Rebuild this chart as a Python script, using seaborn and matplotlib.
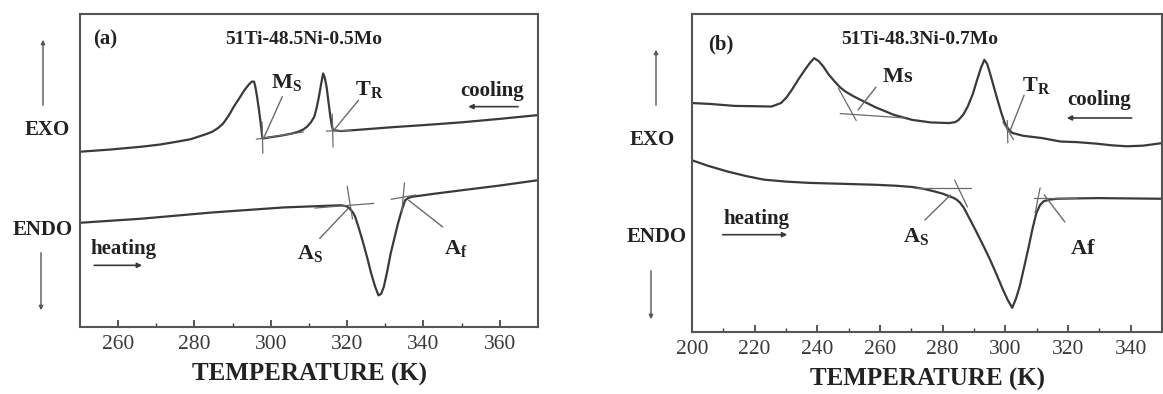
import numpy as np
import pandas as pd
import matplotlib
matplotlib.use("Agg")
import matplotlib.pyplot as plt
import seaborn as sns

# ---------------- DSC data (heat flow in arbitrary units) ----------------
# (a) 51Ti-48.5Ni-0.5Mo
a_cool_T = [250.0, 258.0, 266.1, 271.0, 275.4, 279.0, 281.0, 283.0, 284.7, 286.2, 287.5, 289.0,
            290.3, 291.8, 293.1, 294.2, 295.0, 295.6, 295.9, 296.4, 296.9, 297.4, 297.8, 299.7,
            301.5, 303.4, 305.5, 307.2, 308.5, 309.5, 310.5, 311.4, 312.0, 312.6, 313.2, 313.7,
            314.1, 314.6, 315.1, 315.6, 316.0, 316.3, 318.4, 324.0, 331.4, 340.0, 350.1, 360.0, 370.0]
a_cool_y = [56.0, 56.7, 57.6, 58.3, 59.2, 60.0, 60.8, 61.6, 62.4, 63.6, 65.0, 67.6,
            70.4, 73.2, 75.7, 77.4, 78.4, 78.4, 77.0, 73.5, 69.3, 64.5, 60.2, 60.6,
            60.9, 61.3, 61.8, 62.4, 63.1, 64.0, 65.4, 67.2, 70.0, 73.6, 77.8, 81.0,
            79.8, 76.8, 72.0, 67.2, 64.2, 62.9, 62.6, 63.1, 63.8, 64.5, 65.4, 66.5, 67.7]

a_heat_T = [250.0, 266.1, 284.7, 303.4, 318.4, 319.8, 320.7, 321.5, 322.1, 323.0, 324.0, 325.2,
            326.3, 327.3, 328.2, 328.9, 329.6, 330.5, 331.4, 332.4, 333.3, 334.3, 335.2, 336.0,
            337.0, 343.0, 350.1, 360.0, 370.0]
a_heat_y = [33.3, 34.6, 36.6, 38.2, 38.9, 38.6, 37.8, 36.6, 35.2, 31.8, 27.7, 22.4,
            17.1, 13.0, 10.1, 10.6, 12.8, 17.8, 23.5, 28.5, 33.0, 37.3, 40.5, 41.2,
            41.6, 42.6, 43.7, 45.2, 46.9]

# (b) 51Ti-48.3Ni-0.7Mo
b_cool_T = [200.0, 206.0, 213.6, 220.0, 225.4, 228.4, 230.2, 231.9, 234.0, 236.0, 237.6, 239.0,
            240.4, 241.9, 243.6, 245.5, 247.2, 249.0, 251.4, 253.8, 258.5, 264.4, 270.3, 276.2,
            282.1, 284.0, 285.1, 286.6, 288.0, 289.6, 291.0, 292.2, 293.3, 294.2, 295.1, 296.3,
            297.5, 298.7, 299.8, 301.0, 302.2, 305.7, 311.6, 317.6, 323.0, 329.4, 334.0, 338.8,
            344.0, 350.0]
b_cool_y = [72.0, 71.7, 71.1, 71.0, 70.9, 72.0, 73.8, 76.2, 79.5, 82.4, 84.6, 86.1,
            85.2, 83.5, 81.0, 78.8, 77.0, 75.6, 74.2, 73.0, 70.7, 68.3, 66.7, 65.9,
            65.7, 66.0, 66.7, 68.4, 70.9, 74.8, 79.3, 83.0, 85.6, 84.3, 81.4, 77.2,
            73.0, 69.0, 65.7, 63.8, 62.6, 61.7, 61.0, 59.9, 59.7, 59.2, 58.7, 58.4,
            58.6, 59.4]

b_heat_T = [200.0, 205.0, 211.2, 217.0, 223.0, 230.0, 237.2, 248.0, 258.5, 265.0, 270.3, 274.0,
            277.4, 280.0, 282.1, 283.4, 284.5, 285.6, 286.8, 288.6, 290.4, 292.8, 295.1, 297.2,
            299.2, 300.8, 302.2, 303.4, 304.6, 306.0, 307.5, 308.7, 309.9, 311.0, 312.2, 314.0,
            316.4, 322.0, 329.4, 340.0, 350.0]
b_heat_y = [54.0, 52.3, 50.5, 49.1, 47.9, 47.3, 46.9, 46.6, 46.3, 46.0, 45.6, 45.0,
            44.2, 43.5, 42.7, 42.2, 41.6, 40.6, 39.0, 35.6, 32.2, 27.5, 22.8, 18.1,
            13.4, 10.0, 7.6, 10.5, 14.4, 20.4, 27.0, 32.6, 37.4, 39.8, 41.1, 41.6,
            41.9, 42.0, 42.1, 42.0, 41.9]

# Onset constructions: tangent segments [(T1, y1), (T2, y2)]
a_tangents = [
    [(296.2, 60.0), (308.5, 62.3)], [(297.7, 65.5), (297.9, 55.5)],        # Ms
    [(314.5, 62.6), (321.0, 62.8)], [(316.1, 68.0), (316.3, 57.5)],        # TR
    [(311.5, 38.0), (327.0, 39.5)], [(320.0, 45.0), (321.4, 34.5)],        # As
    [(331.5, 40.8), (338.0, 42.2)], [(335.0, 46.0), (334.3, 36.5)],        # Af
]
b_tangents = [
    [(247.3, 68.7), (267.9, 67.3)], [(246.7, 76.7), (252.4, 66.5)],        # Ms
    [(299.2, 66.0), (302.6, 60.5)], [(300.6, 66.5), (300.8, 59.5)],        # TR
    [(271.1, 45.3), (288.9, 45.3)], [(283.8, 47.8), (287.9, 39.3)],        # As
    [(309.2, 42.1), (322.9, 42.1)], [(311.1, 45.3), (309.5, 37.4)],        # Af
]

# Transformation-temperature labels: (text, label position, leader start, leader end)
a_labels = [
    (r"$\mathbf{M}_{\mathbf{S}}$", (304.0, 78.0), (303.0, 73.6), (298.3, 60.8)),
    (r"$\mathbf{T}_{\mathbf{R}}$", (325.8, 76.0), (323.0, 72.5), (316.6, 63.0)),
    (r"$\mathbf{A}_{\mathbf{S}}$", (310.2, 23.5), (312.8, 28.3), (320.2, 37.8)),
    (r"$\mathbf{A}_{\mathbf{f}}$", (348.5, 25.0), (345.0, 32.0), (336.1, 40.5)),
]
b_labels = [
    (r"$\mathbf{Ms}$", (265.5, 80.0), (258.7, 77.0), (253.0, 69.8)),
    (r"$\mathbf{T}_{\mathbf{R}}$", (310.0, 77.5), (306.0, 74.5), (301.6, 63.5)),
    (r"$\mathbf{A}_{\mathbf{S}}$", (271.5, 30.0), (274.3, 35.2), (282.5, 43.1)),
    (r"$\mathbf{Af}$", (324.8, 26.0), (319.0, 34.6), (312.4, 43.1)),
]

panels = [
    dict(tag="(a)", title="51Ti-48.5Ni-0.5Mo", xlim=(250, 370), xticks=[260, 280, 300, 320, 340, 360],
         cool=(a_cool_T, a_cool_y), heat=(a_heat_T, a_heat_y), tangents=a_tangents, labels=a_labels,
         tag_pos=(253.5, 92.0), title_pos=(308.6, 92.0),
         cool_text=(358.0, 75.5), cool_arrow=((365.5, 70.4), (351.0, 70.4)),
         heat_text=(261.4, 25.0), heat_arrow=((253.0, 19.7), (267.0, 19.7)),
         rect=[80 / 1163, 67 / 394, 458 / 1163, 313 / 394],
         exo=(47, 264), endo=(43, 164), up=((43, 286), (43, 357)), down=((41, 144), (41, 81))),
    dict(tag="(b)", title="51Ti-48.3Ni-0.7Mo", xlim=(200, 350), xticks=[200, 220, 240, 260, 280, 300, 320, 340],
         cool=(b_cool_T, b_cool_y), heat=(b_heat_T, b_heat_y), tangents=b_tangents, labels=b_labels,
         tag_pos=(205.0, 90.5), title_pos=(272.7, 92.0),
         cool_text=(330.0, 73.0), cool_arrow=((341.2, 67.3), (318.7, 67.3)),
         heat_text=(220.7, 35.5), heat_arrow=((208.9, 30.6), (231.3, 30.6)),
         rect=[692 / 1163, 62 / 394, 470 / 1163, 318 / 394],
         exo=(652, 254), endo=(657, 157), up=((656, 286), (656, 347)), down=((651, 126), (651, 72))),
]

sns.set_theme(style="white")
plt.rcParams["font.family"] = ["Liberation Serif", "DejaVu Serif"]
plt.rcParams["mathtext.fontset"] = "custom"
plt.rcParams["mathtext.rm"] = "Liberation Serif"
plt.rcParams["mathtext.bf"] = "Liberation Serif:bold"
plt.rcParams["mathtext.it"] = "Liberation Serif:italic"

INK = "#3a3a3a"
THIN = "#6a6a6a"

fig = plt.figure(figsize=(11.63, 3.94), dpi=100)

for p in panels:
    ax = fig.add_axes(p["rect"])
    for T, y in (p["cool"], p["heat"]):
        df = pd.DataFrame({"T": T, "y": y})
        sns.lineplot(data=df, x="T", y="y", ax=ax, color=INK, lw=1.6, sort=False, estimator=None)
    for (x1, y1), (x2, y2) in p["tangents"]:
        ax.plot([x1, x2], [y1, y2], color=THIN, lw=0.9)
    for txt, lpos, start, end in p["labels"]:
        ax.plot([start[0], end[0]], [start[1], end[1]], color=THIN, lw=1.0)
        ax.text(*lpos, txt, fontsize=16, ha="center", va="center", color="#222222")

    ax.text(*p["tag_pos"], p["tag"], fontsize=15, fontweight="bold", ha="left", va="center", color="#222222")
    ax.text(*p["title_pos"], p["title"], fontsize=14, fontweight="bold", ha="center", va="center", color="#222222")
    ax.text(*p["cool_text"], "cooling", fontsize=15, fontweight="bold", ha="center", va="center", color="#222222")
    ax.annotate("", xy=p["cool_arrow"][1], xytext=p["cool_arrow"][0],
                arrowprops=dict(arrowstyle="-|>", lw=1.2, color=INK, mutation_scale=7))
    ax.text(*p["heat_text"], "heating", fontsize=15, fontweight="bold", ha="center", va="center", color="#222222")
    ax.annotate("", xy=p["heat_arrow"][1], xytext=p["heat_arrow"][0],
                arrowprops=dict(arrowstyle="-|>", lw=1.2, color=INK, mutation_scale=7))

    ax.set_xlim(*p["xlim"])
    ax.set_ylim(0, 100)
    ax.set_xticks(p["xticks"])
    ax.set_xticks(np.arange(p["xlim"][0] + 10, p["xlim"][1], 10), minor=True)
    ax.set_yticks([])
    ax.set_xlabel("TEMPERATURE (K)", fontsize=18, fontweight="bold", color="#222222", labelpad=6)
    ax.set_ylabel("")
    ax.tick_params(axis="x", which="major", direction="in", length=5, width=1.2, colors=INK,
                   labelsize=15.5, pad=6, bottom=True)
    ax.tick_params(axis="x", which="minor", direction="in", length=3, width=1.0, colors=INK, bottom=True)
    for s in ax.spines.values():
        s.set_color("#555555")
        s.set_linewidth(1.5)

    # heat-flow direction indicators outside the frame
    fig.text(p["exo"][0] / 1163, p["exo"][1] / 394, "EXO", fontsize=15, fontweight="bold",
             ha="center", va="center", color="#222222")
    fig.text(p["endo"][0] / 1163, p["endo"][1] / 394, "ENDO", fontsize=15, fontweight="bold",
             ha="center", va="center", color="#222222")
    for a, b in (p["up"], p["down"]):
        fig.add_artist(matplotlib.patches.FancyArrowPatch(
            (a[0] / 1163, a[1] / 394), (b[0] / 1163, b[1] / 394), transform=fig.transFigure,
            arrowstyle="-|>", mutation_scale=6, lw=1.0, color="#555555"))

fig.savefig("out.png", dpi=100)
